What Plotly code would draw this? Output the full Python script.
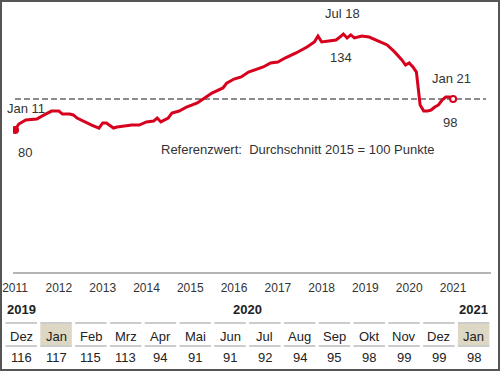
import plotly.graph_objects as go

# ---- data ----
dates = ["2011-01","2011-02","2011-04","2011-06","2011-07","2011-09","2011-10","2011-11",
         "2012-01","2012-02","2012-04","2012-05","2012-06","2012-08","2012-10","2012-12",
         "2013-01","2013-02","2013-04","2013-05","2013-07","2013-09","2013-11",
         "2014-01","2014-03","2014-04","2014-05","2014-07","2014-08","2014-10","2014-12",
         "2015-03","2015-05","2015-07","2015-10","2015-11",
         "2016-01","2016-03","2016-05","2016-08","2016-09","2016-11",
         "2017-01","2017-03","2017-06","2017-09","2017-11","2017-12",
         "2018-01","2018-03","2018-05","2018-06","2018-07","2018-08","2018-09","2018-10","2018-12",
         "2019-02","2019-04","2019-06","2019-07","2019-09","2019-11","2019-12",
         "2020-01","2020-02","2020-03","2020-04","2020-05","2020-06","2020-07","2020-08",
         "2020-09","2020-10","2020-11","2020-12","2021-01"]
index_values = [82.3,85.7,88.0,88.6,88.6,90.9,92.0,93.1,
                93.1,91.4,91.4,90.9,89.1,86.9,85.1,83.4,
                86.3,86.3,83.4,84.0,84.6,85.1,85.1,
                86.9,87.4,89.1,86.9,89.1,92.0,93.1,95.4,
                97.7,100.6,103.4,106.3,109.1,
                111.4,112.6,115.4,117.7,118.3,120.6,
                121.1,123.4,126.3,129.7,132.6,136.0,
                132.6,133.1,133.7,135.4,137.1,134.9,136.6,134.9,136.0,
                135.4,133.7,132.0,130.9,126.9,122.3,119.4,
                120.6,118.3,115.4,96.6,93.1,93.1,93.7,95.4,
                96.6,99.4,101.1,101.1,100.0]
reference_value = 100
year_ticks = ["2011-01-01","2012-01-01","2013-01-01","2014-01-01","2015-01-01","2016-01-01",
              "2017-01-01","2018-01-01","2019-01-01","2020-01-01","2021-01-01"]
year_labels = ["2011","2012","2013","2014","2015","2016","2017","2018","2019","2020","2021"]

label_start = ("Jan 11", "80")
label_peak = ("Jul 18", "134")
label_end = ("Jan 21", "98")
reference_text = "Referenzwert:  Durchschnitt 2015 = 100 Punkte"

table_months = ["Dez","Jan","Feb","Mrz","Apr","Mai","Jun","Jul","Aug","Sep","Okt","Nov","Dez","Jan"]
table_values = [116,117,115,113,94,91,91,92,94,95,98,99,99,98]
table_years = ["2019","2020","2021"]

W, H = 500, 371
RED = "#d7001d"
FONT = "Liberation Sans, Arial, sans-serif"

def px(x): return x / W
def py(y): return 1 - y / H

fig = go.Figure()
fig.add_trace(go.Scatter(x=dates, y=index_values, mode="lines",
                         line=dict(color=RED, width=3), hoverinfo="skip"))
fig.add_trace(go.Scatter(x=[dates[0]], y=[index_values[0]], mode="markers",
                         marker=dict(color=RED, size=8), hoverinfo="skip"))
fig.add_trace(go.Scatter(x=[dates[-1]], y=[index_values[-1]], mode="markers",
                         marker=dict(color="white", size=6, line=dict(color=RED, width=2)),
                         hoverinfo="skip"))

shapes = []
shapes.append(dict(type="line", xref="paper", yref="y", x0=px(15), x1=px(486),
                   y0=reference_value, y1=reference_value,
                   line=dict(color="#8c8c8c", width=2, dash="6px,3px"), layer="below"))

ann = []
txt = dict(size=13, color="#333333", family=FONT)
C = dict(showarrow=False, xanchor="center", yanchor="middle")
imax = max(range(len(index_values)), key=lambda i: index_values[i])
for (top, bot), i, dx in [(label_start, 0, 11), (label_peak, imax, -1), (label_end, len(dates) - 1, -2)]:
    ann.append(dict(x=dates[i], y=index_values[i], xref="x", yref="y", text=top,
                    xshift=dx, yshift=21, font=txt, **C))
    ann.append(dict(x=dates[i], y=index_values[i], xref="x", yref="y", text=bot,
                    xshift=dx - 1, yshift=-23, font=txt, **C))
ann.append(dict(x=px(298), y=py(150), xref="paper", yref="paper", text=reference_text,
                font=txt, **C))

# ---- bottom table ----
pitch, cw, left0 = 34.8, 31.5, 5.5
tfont = dict(size=13, color="#222222", family=FONT)
for i, (m, v) in enumerate(zip(table_months, table_values)):
    l = left0 + i * pitch
    c = l + cw / 2
    if m == "Jan":
        shapes.append(dict(type="rect", xref="paper", yref="paper", x0=px(l), x1=px(l + cw),
                           y0=py(346), y1=py(324), fillcolor="#dcd8c4", line=dict(width=0), layer="below"))
    for yy in (323, 346):
        shapes.append(dict(type="line", xref="paper", yref="paper", x0=px(l), x1=px(l + cw),
                           y0=py(yy), y1=py(yy), line=dict(color="#cccccc", width=2)))
    ann.append(dict(x=px(c), y=py(336), xref="paper", yref="paper", text=m, font=tfont, **C))
    ann.append(dict(x=px(c), y=py(357), xref="paper", yref="paper", text=str(v), font=tfont, **C))

def center(i): return left0 + i * pitch + cw / 2
year_pos = [center(0), (center(1) + center(12)) / 2, center(13)]
for yl, xc in zip(table_years, year_pos):
    ann.append(dict(x=px(xc), y=py(309), xref="paper", yref="paper", text="<b>%s</b>" % yl,
                    font=tfont, **C))

shapes.append(dict(type="rect", xref="paper", yref="paper", x0=px(1), x1=px(499), y0=py(370), y1=py(1),
                   line=dict(color="#555555", width=2)))

fig.update_layout(
    width=W, height=H, margin=dict(l=0, r=0, t=0, b=0),
    paper_bgcolor="white", plot_bgcolor="white", showlegend=False,
    shapes=shapes, annotations=ann,
    xaxis=dict(type="date", domain=[px(13), px(491)], range=["2010-12-15", "2021-11-13"],
               tickvals=year_ticks, ticktext=year_labels, showgrid=False, zeroline=False,
               showline=True, linecolor="#b4b4b4", linewidth=2, ticks="", automargin=False,
               tickfont=dict(size=12, color="#333333", family=FONT), ticklabelstandoff=4),
    yaxis=dict(domain=[1 - 272 / H, 1], range=[1.14, 156.57], visible=False, fixedrange=True,
               automargin=False),
)
fig.write_html("out.html", config={"displayModeBar": False},
               post_script="document.body.style.margin='0';document.body.style.overflow='hidden';")
